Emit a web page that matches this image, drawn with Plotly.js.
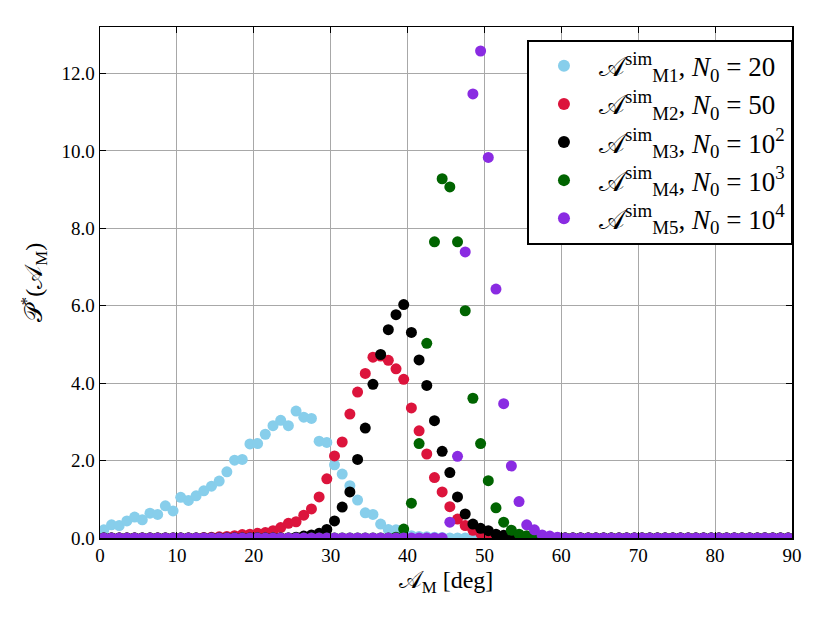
<!DOCTYPE html>
<html>
<head>
<meta charset="utf-8">
<script src="https://cdn.plot.ly/plotly-3.0.1.min.js"></script>
<style>
  html, body { margin: 0; padding: 0; background: #fff; }
  #chart { width: 830px; height: 623px; }
</style>
</head>
<body>
<div id="chart"></div>
<script>
// bin centres in degrees
const angles = [0.5,1.5,2.5,3.5,4.5,5.5,6.5,7.5,8.5,9.5,10.5,11.5,12.5,13.5,14.5,15.5,16.5,17.5,18.5,19.5,
  20.5,21.5,22.5,23.5,24.5,25.5,26.5,27.5,28.5,29.5,30.5,31.5,32.5,33.5,34.5,35.5,36.5,37.5,38.5,39.5,
  40.5,41.5,42.5,43.5,44.5,45.5,46.5,47.5,48.5,49.5,50.5,51.5,52.5,53.5,54.5,55.5,56.5,57.5,58.5,59.5,
  60.5,61.5,62.5,63.5,64.5,65.5,66.5,67.5,68.5,69.5,70.5,71.5,72.5,73.5,74.5,75.5,76.5,77.5,78.5,79.5,
  80.5,81.5,82.5,83.5,84.5,85.5,86.5,87.5,88.5,89.5];

const m1 = [0.21,0.34,0.32,0.44,0.54,0.47,0.64,0.61,0.83,0.70,1.05,0.97,1.09,1.22,1.34,1.47,1.71,2.01,2.03,2.43,
  2.44,2.68,2.90,3.04,2.90,3.28,3.12,3.09,2.50,2.47,1.89,1.65,1.35,0.98,0.65,0.61,0.36,0.22,0.21,0.10,
  0.06,0.04,0.03,0.02,0.01,0,0,0,0,0,0,0,0,0,0,0,0,0,0,0,
  0,0,0,0,0,0,0,0,0,0,0,0,0,0,0,0,0,0,0,0,
  0,0,0,0,0,0,0,0,0,0];

const m2 = [0,0,0,0,0,0,0,0,0,0,0,0,0,0.01,0.02,0.03,0.04,0.06,0.09,0.10,
  0.12,0.14,0.19,0.27,0.38,0.42,0.59,0.75,1.06,1.53,2.12,2.48,3.20,3.77,4.25,4.67,4.70,4.59,4.37,4.10,
  3.36,2.77,2.17,1.56,1.19,0.81,0.49,0.32,0.20,0.12,0.07,0.04,0.02,0.01,0,0,0,0,0,0,
  0,0,0,0,0,0,0,0,0,0,0,0,0,0,0,0,0,0,0,0,
  0,0,0,0,0,0,0,0,0,0];

const m3 = [0,0,0,0,0,0,0,0,0,0,0,0,0,0,0,0,0,0,0,0,
  0,0,0,0,0,0.02,0.05,0.08,0.12,0.22,0.44,0.80,1.19,2.03,2.84,3.97,4.74,5.38,5.77,6.03,
  5.31,4.60,3.94,3.03,2.24,1.69,1.06,0.62,0.36,0.25,0.19,0.10,0.07,0.04,0.02,0,0,0,0,0,
  0,0,0,0,0,0,0,0,0,0,0,0,0,0,0,0,0,0,0,0,
  0,0,0,0,0,0,0,0,0,0];

const m4 = [0,0,0,0,0,0,0,0,0,0,0,0,0,0,0,0,0,0,0,0,
  0,0,0,0,0,0,0,0,0,0,0,0,0,0,0,0,0,0,0.02,0.23,
  0.90,2.44,5.03,7.65,9.28,9.07,7.65,5.87,3.61,2.44,1.48,0.78,0.41,0.20,0.10,0.06,0.03,0.01,0,0,
  0,0,0,0,0,0,0,0,0,0,0,0,0,0,0,0,0,0,0,0,
  0,0,0,0,0,0,0,0,0,0];

const m5 = [0,0,0,0,0,0,0,0,0,0,0,0,0,0,0,0,0,0,0,0,
  0,0,0,0,0,0,0,0,0,0,0,0,0,0,0,0,0,0,0,0,
  0,0,0,0,0,0.41,2.11,7.39,11.47,12.58,9.83,6.43,3.47,1.86,0.94,0.34,0.21,0.08,0.05,0.02,
  0,0,0,0,0,0,0,0,0,0,0,0,0,0,0,0,0,0,0,0,
  0,0,0,0,0,0,0,0,0,0];

const seriesNames = [
  "𝒜<sup>sim</sup><sub>M1</sub>, <i>N</i><sub>0</sub> = 20",
  "𝒜<sup>sim</sup><sub>M2</sub>, <i>N</i><sub>0</sub> = 50",
  "𝒜<sup>sim</sup><sub>M3</sub>, <i>N</i><sub>0</sub> = 10<sup>2</sup>",
  "𝒜<sup>sim</sup><sub>M4</sub>, <i>N</i><sub>0</sub> = 10<sup>3</sup>",
  "𝒜<sup>sim</sup><sub>M5</sub>, <i>N</i><sub>0</sub> = 10<sup>4</sup>"
];
const seriesColors = ["#87ceeb", "#dc143c", "#000000", "#006400", "#8a2be2"];
const seriesValues = [m1, m2, m3, m4, m5];

const serif = "Liberation Serif, DejaVu Serif, serif";

let traces = seriesValues.map((vals, i) => ({
    x: angles,
    y: vals,
    type: "scatter",
    mode: "markers",
    name: seriesNames[i],
    marker: { color: seriesColors[i], size: 11 }
}));

let axisCommon = {
    showline: true,
    linecolor: "#000",
    linewidth: 1.5,
    mirror: "ticks",
    ticks: "inside",
    ticklen: 6,
    tickwidth: 1,
    tickcolor: "#000",
    showgrid: true,
    gridcolor: "#a8a8a8",
    gridwidth: 1,
    zeroline: false,
    tickfont: { family: serif, size: 19, color: "#000" }
};

let layout = {
    width: 830,
    height: 623,
    paper_bgcolor: "#fff",
    plot_bgcolor: "#fff",
    margin: { l: 100, r: 38, t: 27, b: 85 },
    showlegend: true,
    xaxis: Object.assign({}, axisCommon, {
        range: [0, 90],
        dtick: 10,
        tick0: 0,
        title: { text: "𝒜<sub>M</sub> [deg]", font: { family: serif, size: 24, color: "#000" }, standoff: 6 }
    }),
    yaxis: Object.assign({}, axisCommon, {
        range: [0, 13.2],
        dtick: 2,
        tick0: 0,
        tickformat: ".1f",
        title: { text: "𝒫<sup>*</sup>(𝒜<sub>M</sub>)", font: { family: serif, size: 24, color: "#000" }, standoff: 12 }
    }),
    legend: {
        x: 0.617,
        y: 0.975,
        xanchor: "left",
        yanchor: "top",
        bgcolor: "#fff",
        bordercolor: "#000",
        borderwidth: 2,
        font: { family: serif, size: 27, color: "#000" },
        itemsizing: "constant",
        itemwidth: 60
    }
};

Plotly.newPlot("chart", traces, layout, { displayModeBar: false, staticPlot: true });
</script>
</body>
</html>
